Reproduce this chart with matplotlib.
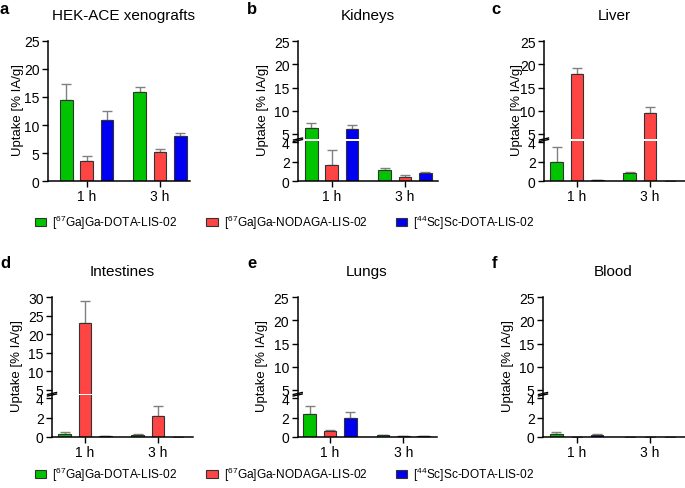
import numpy as np
import matplotlib
matplotlib.use('Agg')
import matplotlib.pyplot as plt
from matplotlib.patches import Patch
from matplotlib.lines import Line2D

plt.rcParams['font.family'] = ['Liberation Sans', 'DejaVu Sans']
plt.rcParams['mathtext.default'] = 'regular'

# data (uptake in % IA/g, mean and upper error) per organ: groups 1 h, 3 h
times = ['1 h', '3 h']
compounds = [r'[$^{67}$Ga]Ga-DOTA-LIS-02', r'[$^{67}$Ga]Ga-NODAGA-LIS-02', r'[$^{44}$Sc]Sc-DOTA-LIS-02']

tumour_mean = [[14.4, 15.9], [3.6, 5.2], [10.95, 8.1]]
tumour_err = [[3.0, 0.95], [0.9, 0.5], [1.55, 0.45]]

kidney_mean = [[6.25, 1.1], [1.67, 0.45], [6.08, 0.8]]
kidney_err = [[1.1, 0.2], [1.55, 0.15], [0.85, 0.1]]

liver_mean = [[1.98, 0.8], [17.9, 9.6], [0.08, 0.02]]
liver_err = [[1.55, 0.14], [1.3, 1.25], [0.0, 0.0]]

intest_mean = [[0.28, 0.17], [23.1, 2.2], [0.1, 0.02]]
intest_err = [[0.17, 0.1], [6.0, 1.05], [0.02, 0.0]]

lung_mean = [[2.37, 0.14], [0.58, 0.03], [1.97, 0.07]]
lung_err = [[0.82, 0.06], [0.1, 0.07], [0.6, 0.03]]

blood_mean = [[0.3, 0.01], [0.01, 0.01], [0.17, 0.01]]
blood_err = [[0.15, 0.0], [0.0, 0.0], [0.06, 0.0]]

colors = ['#00C400', '#FF4444', '#0000F0']

W, H = 685, 489
fig = plt.figure(figsize=(W / 100, H / 100), dpi=100)


def px_axes(x0, x1, ytop, ybot):
    return fig.add_axes([x0 / W, 1 - ybot / H, (x1 - x0) / W, (ybot - ytop) / H])


def draw_bars(ax, means, errs, off, width):
    x = np.arange(len(times))
    for k in range(3):
        xs = x + (k - 1) * off
        ax.bar(xs, means[k], width=width, color=colors[k], edgecolor='#333333', linewidth=0.8, zorder=2)
        ax.errorbar(xs, means[k], yerr=[np.zeros(len(times)), errs[k]], fmt='none',
                    ecolor='#808080', elinewidth=1.0, capsize=3.5, capthick=1.0, zorder=1)


def style(ax):
    for s in ['top', 'right']:
        ax.spines[s].set_visible(False)
    for s in ['left', 'bottom']:
        ax.spines[s].set_linewidth(1.1)
    ax.tick_params(labelsize=10, length=4, width=1, pad=2)


def panel(geo, row, means, errs, ymax, broken):
    spine, g1, g3, right = geo
    sp = g3 - g1
    xl = ((spine - g1) / sp, (right - g1) / sp)
    off, width = 20.3 / sp, 12.7 / sp
    zero_y, top_y, t4, t5, low_top, up_bot = row[:6]
    if not broken:
        ax = px_axes(spine, right, top_y, zero_y)
        draw_bars(ax, means, errs, off, width)
        ax.set_ylim(0, ymax)
        ax.set_yticks(np.arange(0, ymax + 1, 5))
        ax.set_xlim(*xl)
        ax.set_xticks([0, 1])
        ax.set_xticklabels(times)
        style(ax)
        return
    lo = px_axes(spine, right, low_top, zero_y)
    up = px_axes(spine, right, top_y, up_bot)
    for a in (lo, up):
        draw_bars(a, means, errs, off, width)
        a.set_xlim(*xl)
        style(a)
    lo.set_ylim(0, 4 * (zero_y - low_top) / (zero_y - t4))
    lo.set_yticks([0, 2, 4])
    lo.set_xticks([0, 1])
    lo.set_xticklabels(times)
    scale = (ymax - 5) / (t5 - top_y)
    up.set_ylim(5 - (up_bot - t5) * scale, ymax)
    up.set_yticks(np.arange(5, ymax + 1, 5))
    up.spines['bottom'].set_visible(False)
    up.set_xticks([])
    # break marks on the y spine
    for yb in (up_bot, low_top):
        fig.add_artist(Line2D([(spine - 4.5) / W, (spine + 4.5) / W],
                              [1 - (yb + 1.0) / H, 1 - (yb - 1.0) / H],
                              color='black', lw=1.0, transform=fig.transFigure))


row1 = (182, 42, 143.3, 135, 141.5, 140, 16, 9, 223)
row2 = (437.7, 298.3, 399.3, 391, 396, 394.5, 271.7, 263, 475)

panels = [
    ((48, 86.7, 160, 190), row1, tumour_mean, tumour_err, 'HEK-ACE xenografts', 'a', 25, False, 18, 123, 4),
    ((298, 331.7, 405, 438), row1, kidney_mean, kidney_err, 'Kidneys', 'b', 25, True, 262.7, 368, 252),
    ((544, 577, 650, 685), row1, liver_mean, liver_err, 'Liver', 'c', 25, True, 516.7, 614, 496),
    ((52, 85, 158, 193), row2, intest_mean, intest_err, 'Intestines', 'd', 30, True, 17, 122, 5),
    ((297.7, 330, 403.3, 437), row2, lung_mean, lung_err, 'Lungs', 'e', 25, True, 261.7, 367, 252),
    ((543, 576.7, 650, 685), row2, blood_mean, blood_err, 'Blood', 'f', 25, True, 508.3, 613, 495),
]

for geo, row, m, e, title, letter, ymax, broken, ylx, tx, lx in panels:
    panel(geo, row, m, e, ymax, broken)
    zero_y, top_y = row[0], row[1]
    fig.text(tx / W, 1 - row[6] / H, title, ha='center', va='center', fontsize=11)
    fig.text(ylx / W, 1 - ((top_y + zero_y) / 2 - 2) / H, 'Uptake [% IA/g]', rotation=90,
             ha='center', va='center', fontsize=9.5)
    fig.text(lx / W, 1 - row[7] / H, letter, ha='center', va='center', fontsize=12, fontweight='bold')

handles = [Patch(facecolor=colors[k], edgecolor='#333333', linewidth=0.8) for k in range(3)]
for row in (row1, row2):
    fig.legend(handles, compounds, loc='center left', bbox_to_anchor=(35 / W, 1 - row[8] / H),
               ncol=3, frameon=False, borderpad=0, borderaxespad=0, fontsize=8.6,
               handlelength=0.95, handleheight=0.7, handletextpad=0.5, columnspacing=2.4)

fig.savefig('out.png', dpi=100)
